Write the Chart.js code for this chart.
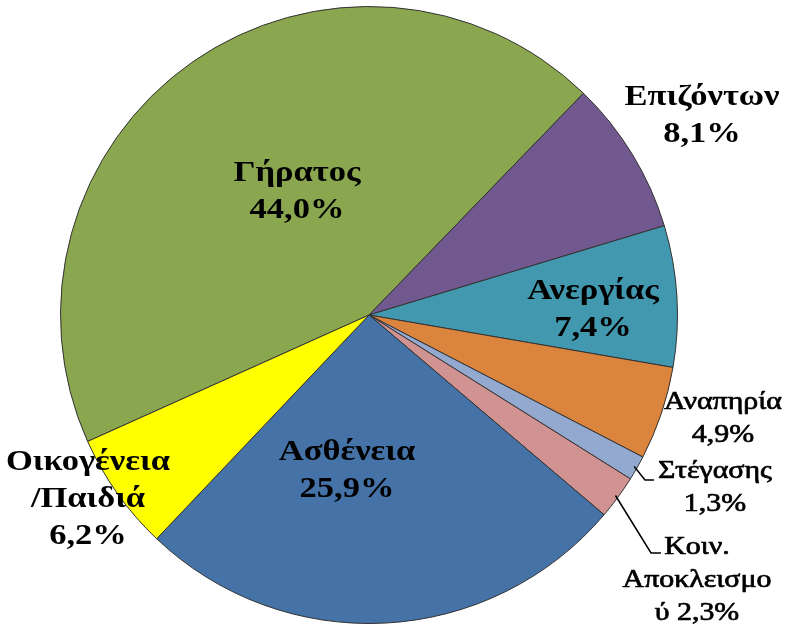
<!DOCTYPE html>
<html>
<head>
<meta charset="utf-8">
<script src="https://cdn.jsdelivr.net/npm/chart.js@4.4.1/dist/chart.umd.min.js"></script>
<style>
  html, body { margin: 0; padding: 0; background: #fff; }
  #wrap { width: 794px; height: 628px; }
</style>
</head>
<body>
<div id="wrap"><canvas id="myChart" width="794" height="628"></canvas></div>
<script>
// categories and shares (%)
const categories = ["Γήρατος", "Επιζόντων", "Ανεργίας", "Αναπηρία", "Στέγασης", "Κοιν. Αποκλεισμού", "Ασθένεια", "Οικογένεια/Παιδιά"];
const shares = [44.0, 8.1, 7.4, 4.9, 1.3, 2.3, 25.9, 6.2];
const colors = ["#8AA64E", "#71588F", "#4198AF", "#DB843D", "#93A9CF", "#D19392", "#4572A7", "#FFFF00"];

// how each label is broken into lines
const labelLines = [
  ["Γήρατος", "44,0%"],
  ["Επιζόντων", "8,1%"],
  ["Ανεργίας", "7,4%"],
  ["Αναπηρία", "4,9%"],
  ["Στέγασης", "1,3%"],
  ["Κοιν.", "Αποκλεισμο", "ύ 2,3%"],
  ["Ασθένεια", "25,9%"],
  ["Οικογένεια", "/Παιδιά", "6,2%"]
];

// label placement, offset from pie centre
const labelPos = [
  { dx: -72, dy: -123, bold: true },
  { dx: 333, dy: -199, bold: true },
  { dx: 224, dy: -5, bold: true },
  { dx: 354, dy: 104, bold: false },
  { dx: 346, dy: 173, bold: false, leader: [276, 165, 285, 165] },
  { dx: 328, dy: 265, bold: false, leader: [282, 238, 292, 238] },
  { dx: -22, dy: 156, bold: true },
  { dx: -281, dy: 184, bold: true }
];

const stretch = 1.15;

function drawText(ctx, str, x, y, weight) {
  ctx.save();
  ctx.translate(x, y);
  ctx.scale(stretch, 1);
  ctx.fillText(str, 0, 0);
  if (weight) {
    ctx.lineWidth = weight;
    ctx.strokeStyle = "#000";
    ctx.strokeText(str, 0, 0);
  }
  ctx.restore();
}

const labelPlugin = {
  id: "pieLabels",
  beforeDraw(chart) {
    const ctx = chart.ctx;
    ctx.save();
    ctx.fillStyle = "#fff";
    ctx.fillRect(0, 0, chart.width, chart.height);
    ctx.restore();
  },
  afterDatasetsDraw(chart) {
    const ctx = chart.ctx;
    const arcs = chart.getDatasetMeta(0).data;
    ctx.save();
    ctx.textAlign = "center";
    ctx.textBaseline = "middle";
    ctx.fillStyle = "#000";

    // title, cut off by the top edge
    ctx.font = "bold 28px 'Liberation Serif'";
    drawText(ctx, "(2010) (κατανομή %)", 370, -16);

    arcs.forEach((arc, i) => {
      const p = arc.getProps(["x", "y", "startAngle", "endAngle", "outerRadius"], true);
      const lp = labelPos[i];
      const lines = labelLines[i];
      const cx = p.x + lp.dx, cy = p.y + lp.dy;

      if (lp.leader) {
        const mid = (p.startAngle + p.endAngle) / 2;
        const sx = p.x + Math.cos(mid) * (p.outerRadius - 3);
        const sy = p.y + Math.sin(mid) * (p.outerRadius - 3);
        ctx.beginPath();
        ctx.strokeStyle = "#000";
        ctx.lineWidth = 1.5;
        ctx.moveTo(sx, sy);
        ctx.lineTo(p.x + lp.leader[0], p.y + lp.leader[1]);
        ctx.lineTo(p.x + lp.leader[2], p.y + lp.leader[3]);
        ctx.stroke();
      }

      ctx.font = (lp.bold ? "bold 30px" : "26px") + " 'Liberation Serif'";
      const lh = lp.bold ? 37 : 33;
      const top = cy - (lines.length - 1) * lh / 2;
      lines.forEach((ln, j) => drawText(ctx, ln, cx, top + j * lh, lp.bold ? 0 : 0.7));
    });
    ctx.restore();
  }
};

new Chart(document.getElementById("myChart"), {
  type: "pie",
  data: {
    labels: categories,
    datasets: [{
      data: shares,
      backgroundColor: colors,
      borderColor: "#333",
      borderWidth: 1
    }]
  },
  options: {
    responsive: false,
    animation: false,
    rotation: -114.2,
    layout: { padding: { top: 6, bottom: 4, left: 60, right: 116 } },
    plugins: {
      legend: { display: false },
      tooltip: { enabled: false }
    }
  },
  plugins: [labelPlugin]
});
</script>
</body>
</html>
